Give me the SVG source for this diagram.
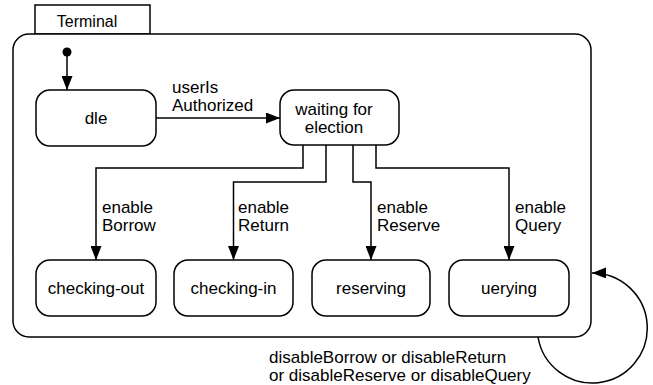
<svg xmlns="http://www.w3.org/2000/svg" width="653" height="385" viewBox="0 0 653 385">
  <style>
    .box { fill: #fff; stroke: #000; stroke-width: 1.5; }
    .edge { fill: none; stroke: #000; stroke-width: 1.5; marker-end: url(#arrow); }
    text { font-family: "Liberation Sans", Arial, sans-serif; font-size: 17px; fill: #000; }
    .c { text-anchor: middle; }
  </style>
  <defs>
    <marker id="arrow" markerUnits="userSpaceOnUse" markerWidth="14" markerHeight="11" refX="14" refY="5.5" orient="auto">
      <path d="M0,0 L14,5.5 L0,11 z" fill="#000"/>
    </marker>
  </defs>
  <rect width="653" height="385" fill="#fff"/>

  <!-- composite state: Terminal -->
  <g id="terminal">
    <rect class="box" x="35" y="5" width="115" height="29"/>
    <text x="87" y="27" class="c" style="font-size:16px">Terminal</text>
    <rect class="box" x="13" y="34" width="578" height="303" rx="16" ry="16"/>
  </g>

  <!-- initial pseudo-state -->
  <g id="initial">
    <circle cx="67" cy="52" r="4.5" fill="#000"/>
  </g>

  <g id="idle">
    <rect class="box" x="36" y="90" width="120" height="56" rx="14" ry="14"/>
    <text x="96" y="124" class="c">dle</text>
  </g>

  <g id="waiting">
    <rect class="box" x="280" y="90" width="119" height="55" rx="14" ry="14"/>
    <text x="334" y="115" class="c">waiting for</text>
    <text x="334" y="133" class="c">election</text>
  </g>

  <g id="checking-out">
    <rect class="box" x="36" y="260" width="120" height="56" rx="14" ry="14"/>
    <text x="96" y="294" class="c">checking-out</text>
  </g>

  <g id="checking-in">
    <rect class="box" x="174" y="260" width="119" height="56" rx="14" ry="14"/>
    <text x="233.5" y="294" class="c">checking-in</text>
  </g>

  <g id="reserving">
    <rect class="box" x="312" y="260" width="118" height="56" rx="14" ry="14"/>
    <text x="371" y="294" class="c">reserving</text>
  </g>

  <g id="querying">
    <rect class="box" x="449" y="260" width="120" height="56" rx="14" ry="14"/>
    <text x="509" y="294" class="c">uerying</text>
  </g>

  <!-- transitions -->
  <g id="connectors">
    <path class="edge" d="M67,52 V90"/>
    <path class="edge" d="M156,118 H280"/>
    <path class="edge" d="M303,145 V168 H96 V260"/>
    <path class="edge" d="M326,145 V182 H233.5 V260"/>
    <path class="edge" d="M353,145 V182 H371 V260"/>
    <path class="edge" d="M376,145 V168 H509 V260"/>
    <path class="edge" d="M538,337 A55,55 0 1 0 592,273"/>
  </g>

  <!-- transition labels -->
  <g id="labels">
    <text x="172" y="93">userIs</text>
    <text x="172" y="111">Authorized</text>
    <text x="102" y="213">enable</text>
    <text x="102" y="231">Borrow</text>
    <text x="238" y="213">enable</text>
    <text x="238" y="231">Return</text>
    <text x="377" y="213">enable</text>
    <text x="377" y="231">Reserve</text>
    <text x="515" y="213">enable</text>
    <text x="515" y="231">Query</text>
    <text x="269" y="363">disableBorrow or disableReturn</text>
    <text x="269" y="381">or disableReserve or disableQuery</text>
  </g>
</svg>
